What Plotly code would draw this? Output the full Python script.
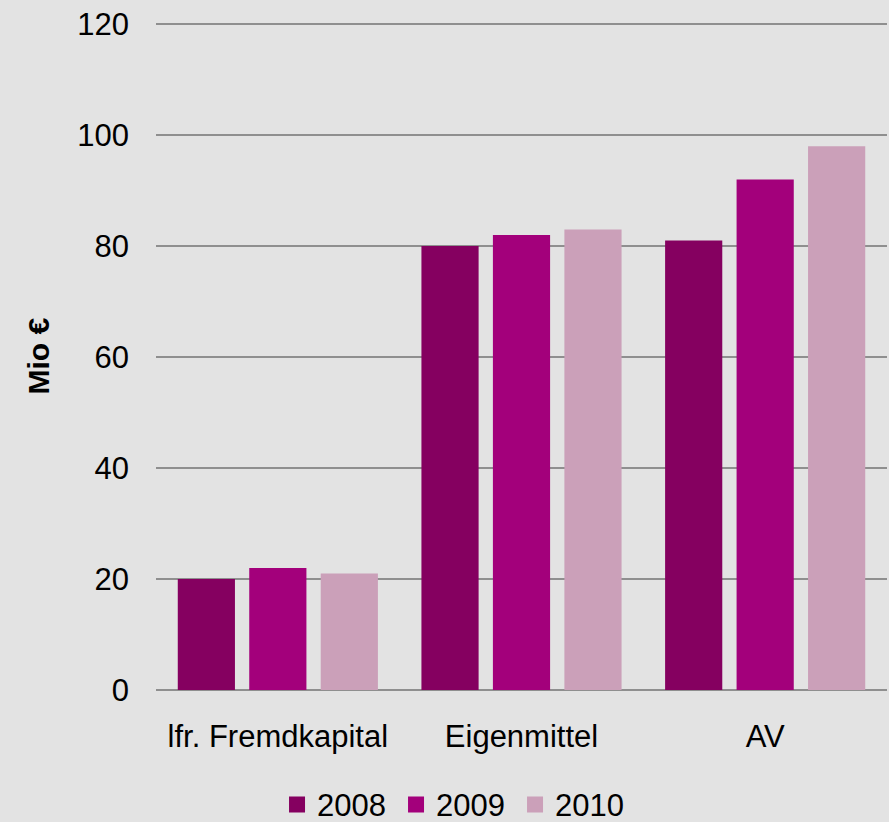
import plotly.graph_objects as go

categories = ["lfr. Fremdkapital", "Eigenmittel", "AV"]
years = ["2008", "2009", "2010"]
values_2008 = [20, 80, 81]
values_2009 = [22, 82, 92]
values_2010 = [21, 83, 98]
colors = ["#850060", "#a3007b", "#cba0b9"]
y_ticks = [0, 20, 40, 60, 80, 100, 120]

series = [values_2008, values_2009, values_2010]

fig = go.Figure()
for name, vals, col in zip(years, series, colors):
    fig.add_trace(go.Bar(x=categories, y=vals, name=name, marker_color=col,
                         marker_line=dict(width=0), showlegend=False))
for name, col in zip(years, colors):
    fig.add_trace(go.Scatter(x=[None], y=[None], mode="markers", name=name,
                             marker=dict(symbol="square", size=16, color=col)))

font = dict(family="Liberation Sans, Arial, sans-serif", size=31, color="#000000")

fig.update_layout(
    width=889, height=822,
    margin=dict(l=156, r=2, t=23, b=132, autoexpand=False),
    paper_bgcolor="#e3e3e3", plot_bgcolor="#e3e3e3",
    font=font,
    barmode="group", bargap=0.12, bargroupgap=0.2,
    showlegend=True,
    legend=dict(orientation="h", xref="container", yref="container",
                x=0.5124, xanchor="center", y=0.021, yanchor="middle",
                font=font, bgcolor="rgba(0,0,0,0)", itemwidth=30, traceorder="normal",
                entrywidth=74),
    xaxis=dict(showgrid=False, showline=False, ticks="", ticklabelstandoff=25,
               tickfont=font, fixedrange=True),
    yaxis=dict(range=[0, 120.2], tickvals=y_ticks, showgrid=True, gridcolor="#8f8f8f",
               gridwidth=2, zeroline=True, zerolinecolor="#8f8f8f", zerolinewidth=2,
               showline=False, ticks="", ticklabelstandoff=26, tickfont=font),
    annotations=[dict(text="<b>Mio €</b>", textangle=-90, xref="paper", yref="paper",
                      x=-0.1614, y=0.5, xanchor="center", yanchor="middle",
                      showarrow=False, font=dict(family="Liberation Sans, Arial, sans-serif",
                                                 size=30, color="#000000"))],
)

fig.write_html("out.html", config={"displayModeBar": False},
               post_script="document.body.style.margin='0';document.body.style.overflow='hidden';")
